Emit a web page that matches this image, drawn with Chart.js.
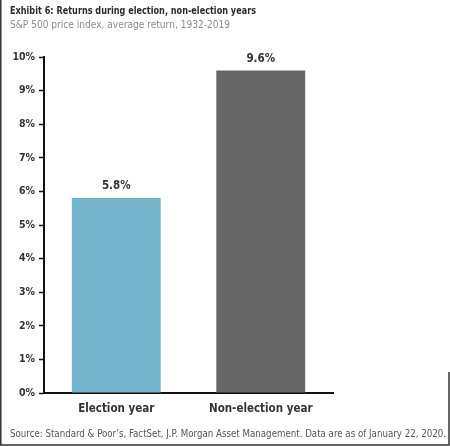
<!DOCTYPE html>
<html>
<head>
<meta charset="utf-8">
<script src="https://cdn.jsdelivr.net/npm/chart.js@4/dist/chart.umd.min.js"></script>
<style>
  html, body { margin: 0; padding: 0; background: #fff; }
  #wrap { width: 450px; height: 446px; position: relative; }
</style>
</head>
<body>
<div id="wrap"><canvas id="myBarChart"></canvas></div>
<script>
var categories = ["Election year", "Non-election year"];
var returns = [5.8, 9.6];
var barColors = ["#75b2cc", "#666666"];
var yTicks = [0, 1, 2, 3, 4, 5, 6, 7, 8, 9, 10];

var FONT = "'DejaVu Sans Condensed', 'Liberation Sans', sans-serif";

// title, subtitle, source and frame
var decorations = {
  id: 'decorations',
  afterDraw: function (chart) {
    var c = chart.ctx;
    c.save();
    c.textBaseline = 'middle';
    c.textAlign = 'left';
    c.fillStyle = '#2b2b2b';
    c.font = 'bold 11px ' + FONT;
    c.fillText('Exhibit 6: Returns during election, non-election years', 10, 11, 246);
    c.fillStyle = '#8c8c8c';
    c.font = '10.5px ' + FONT;
    c.fillText('S&P 500 price index, average return, 1932-2019', 10, 25, 220);
    c.fillStyle = '#555';
    c.font = '10.5px ' + FONT;
    c.fillText("Source: Standard & Poor\u2019s, FactSet, J.P. Morgan Asset Management. Data are as of January 22, 2020.", 10, 434, 436);

    c.strokeStyle = '#333';
    c.lineWidth = 1.5;
    c.beginPath();
    c.moveTo(0.75, 0);
    c.lineTo(0.75, 445);
    c.lineTo(449, 445);
    c.lineTo(449, 372);
    c.stroke();
    c.restore();
  }
};

// value labels above each bar
var valueLabels = {
  id: 'valueLabels',
  afterDatasetsDraw: function (chart) {
    var c = chart.ctx;
    var meta = chart.getDatasetMeta(0);
    c.save();
    c.fillStyle = '#333';
    c.font = 'bold 11.5px ' + FONT;
    c.textAlign = 'center';
    c.textBaseline = 'bottom';
    meta.data.forEach(function (bar, i) {
      c.fillText(returns[i].toFixed(1) + '%', bar.x, bar.y - 6);
    });
    c.restore();
  }
};

var ctx = document.getElementById("myBarChart").getContext('2d');
var myBarChart = new Chart(ctx, {
  type: 'bar',
  data: {
    labels: categories,
    datasets: [{
      data: returns,
      backgroundColor: barColors,
      barPercentage: 0.615,
      categoryPercentage: 1.0
    }]
  },
  options: {
    responsive: true,
    maintainAspectRatio: false,
    animation: false,
    layout: {
      padding: { left: 0, right: 117, top: 57, bottom: 0 }
    },
    plugins: {
      legend: { display: false },
      tooltip: { enabled: false }
    },
    scales: {
      x: {
        grid: { display: false, drawTicks: false },
        border: { display: true, color: '#111', width: 2 },
        ticks: {
          color: '#333',
          padding: 9,
          font: { family: FONT, size: 11.5, weight: 'bold' }
        },
        afterFit: function (scale) { scale.height = 53; }
      },
      y: {
        min: 0,
        max: 10,
        afterBuildTicks: function (scale) {
          scale.ticks = yTicks.map(function (v) { return { value: v }; });
        },
        grid: {
          drawOnChartArea: false,
          drawTicks: true,
          tickLength: 5,
          tickWidth: 1.5,
          tickColor: '#111'
        },
        border: { display: true, color: '#111', width: 2 },
        ticks: {
          color: '#333',
          padding: 4,
          font: { family: FONT, size: 10.5, weight: 'bold' },
          callback: function (v) { return v + '%'; }
        },
        afterFit: function (scale) { scale.width = 44; }
      }
    }
  },
  plugins: [decorations, valueLabels]
});
</script>
</body>
</html>
